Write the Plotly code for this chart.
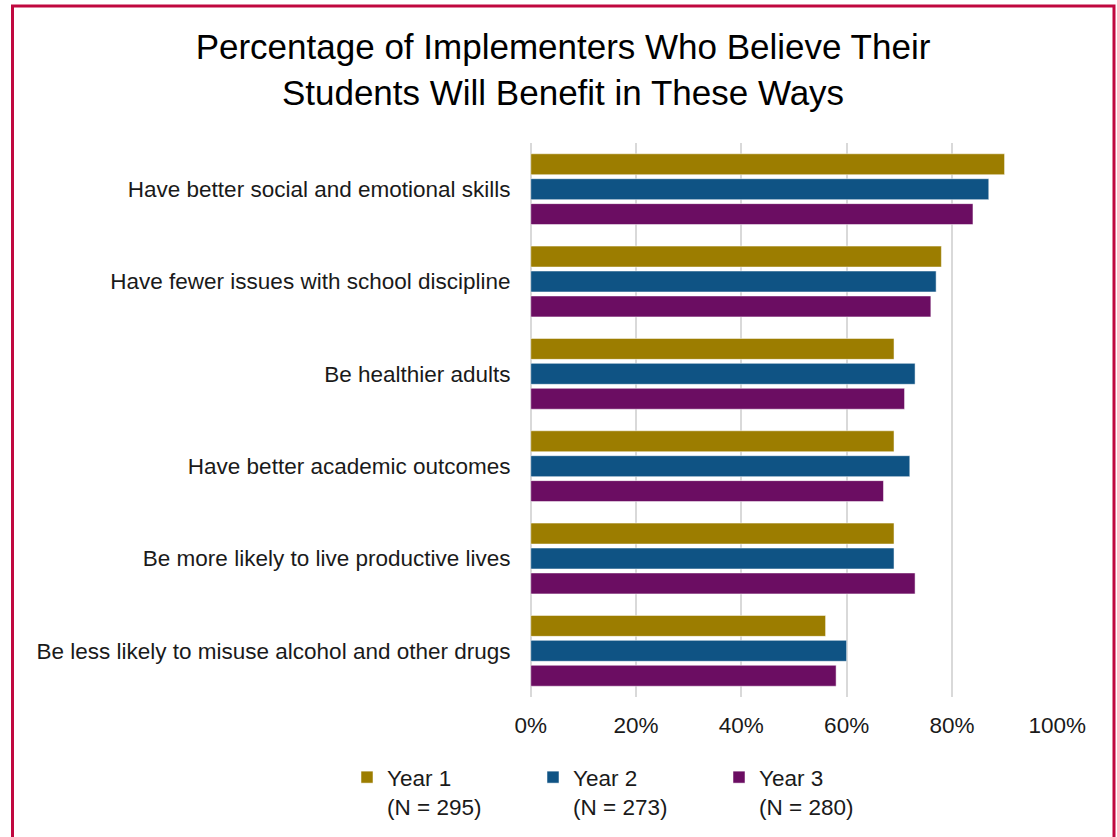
import plotly.graph_objects as go

categories = [
    "Have better social and emotional skills",
    "Have fewer issues with school discipline",
    "Be healthier adults",
    "Have better academic outcomes",
    "Be more likely to live productive lives",
    "Be less likely to misuse alcohol and other drugs",
]
series_names = ["Year 1<br>(N = 295)", "Year 2<br>(N = 273)", "Year 3<br>(N = 280)"]
year1 = [90, 78, 69, 69, 69, 56]
year2 = [87, 77, 73, 72, 69, 60]
year3 = [84, 76, 71, 67, 73, 58]
colors = ["#9C7D00", "#0F5384", "#6B0D62"]
x_ticks = [0, 20, 40, 60, 80, 100]
x_tick_text = ["0%", "20%", "40%", "60%", "80%", "100%"]

W, H = 1117, 837
L, R, T, B = 530, 59, 143, 140
pw, ph = W - L - R, H - T - B


def px_x(p):
    return (p - L) / pw


def px_y(p):
    return (H - p - B) / ph


fig = go.Figure()
for name, vals, col in zip(series_names, [year1, year2, year3], colors):
    fig.add_trace(go.Bar(
        y=categories, x=vals, name=name, orientation="h",
        marker=dict(color=col, line=dict(color="rgba(255,255,255,0.5)", width=1)),
    ))

font_main = "Liberation Sans, Arial, sans-serif"
text_col = "#1a1a1a"

fig.update_layout(
    width=W, height=H,
    margin=dict(l=L, r=R, t=T, b=B, autoexpand=False),
    paper_bgcolor="white", plot_bgcolor="white",
    barmode="group", bargap=0.19, bargroupgap=0.16,
    title=dict(
        text="Percentage of Implementers Who Believe Their<br>Students Will Benefit in These Ways",
        x=563 / W, xanchor="center",
        y=1 - 59 / H, yanchor="top",
        font=dict(family=font_main, size=35, color="black"),
    ),
    xaxis=dict(
        range=[-0.15, 100.15], tickvals=x_ticks, ticktext=x_tick_text,
        tickmode="array",
        showgrid=True, gridcolor="#D9D9D9", gridwidth=2,
        zeroline=True, zerolinecolor="#D9D9D9", zerolinewidth=2,
        showline=False,
        tickfont=dict(family=font_main, size=22.5, color=text_col),
        ticks="outside", ticklen=8, tickcolor="rgba(0,0,0,0)",
    ),
    yaxis=dict(
        autorange="reversed", showgrid=False, showline=False,
        tickfont=dict(family=font_main, size=22.5, color=text_col),
        ticks="outside", ticklen=14, tickcolor="rgba(0,0,0,0)",
    ),
    legend=dict(
        orientation="h", x=px_x(347), xanchor="left",
        y=px_y(756), yanchor="top",
        font=dict(family=font_main, size=22.5, color=text_col),
        valign="top", itemwidth=30, entrywidth=141, entrywidthmode="pixels",
        tracegroupgap=0,
    ),
    shapes=[dict(
        type="rect", xref="paper", yref="paper",
        x0=px_x(12.5), x1=px_x(1114), y0=px_y(900), y1=px_y(6),
        line=dict(color="#C0083F", width=3), fillcolor="rgba(0,0,0,0)",
        layer="above",
    )],
)

fig.write_html("out.html")
